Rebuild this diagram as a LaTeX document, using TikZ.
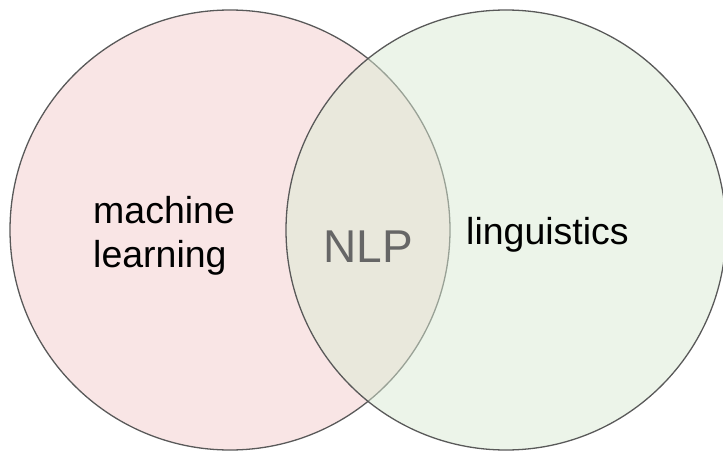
\documentclass[tikz,border=0pt]{standalone}
\usepackage{fontspec}
\setmainfont{Liberation Sans}
\definecolor{mlfill}{HTML}{F4CCCC}
\definecolor{lingfill}{HTML}{D9EAD3}
\definecolor{rim}{HTML}{595959}
\definecolor{nlptext}{HTML}{666666}
\tikzset{
  field/.style={circle, draw=rim, line width=1.3pt, inner sep=0pt,
    minimum size=440pt, fill opacity=0.5},
  label/.style={inner sep=0pt, font=\fontsize{37.5}{44}\selectfont, text=black},
}
\begin{document}
\begin{tikzpicture}[x=1pt, y=-1pt]
  \useasboundingbox (0,0) rectangle (723,452);
  % the two overlapping fields
  \node[field, fill=mlfill] (ml) at (230,230) {};
  \node[field, fill=lingfill] (ling) at (506,230) {};
  % labels
  \node[label, anchor=base west] (mltop) at (93,223) {machine};
  \node[label, anchor=base west] (mlbot) at (93,267) {learning};
  \node[label, anchor=base west] (lingtext) at (466,244) {linguistics};
  \node[label, anchor=base, text=nlptext, font=\fontsize{46}{52}\selectfont] (nlp) at (368.5,262) {NLP};
\end{tikzpicture}
\end{document}
